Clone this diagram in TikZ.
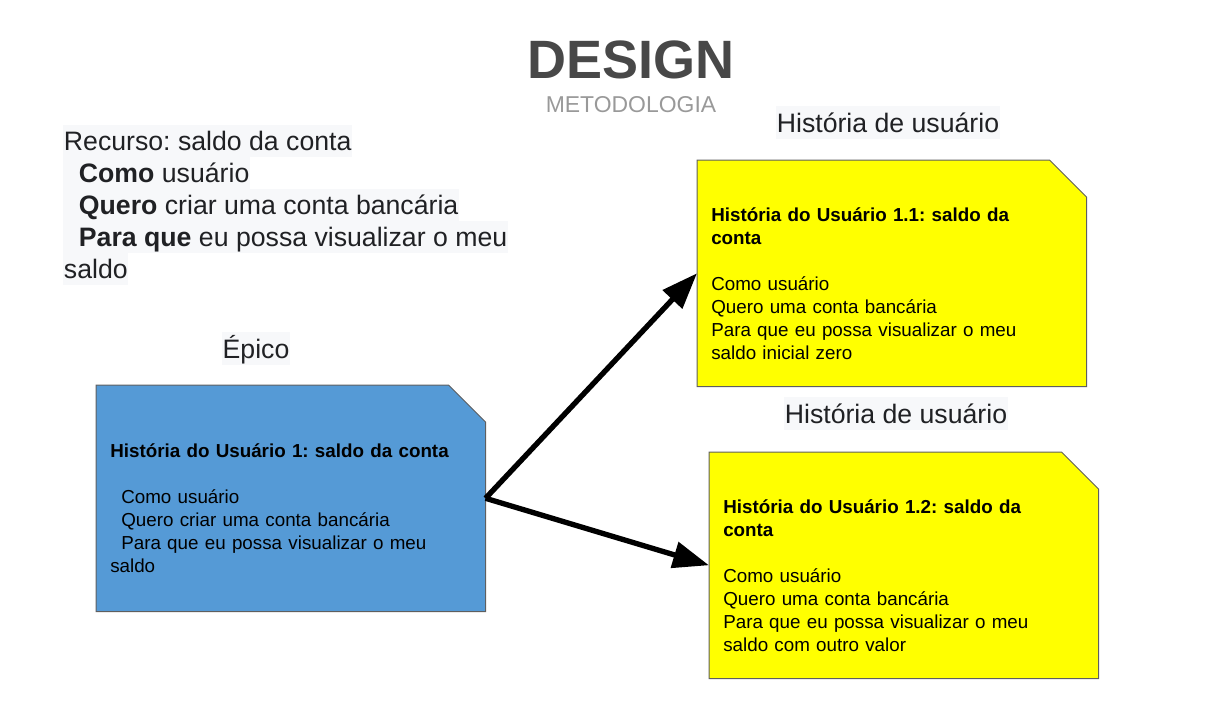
\documentclass[tikz,border=0pt]{standalone}
\usepackage{fontspec}
\setmainfont{Liberation Sans}
\usetikzlibrary{arrows.meta,positioning}
\definecolor{epicblue}{RGB}{85,154,214}
\definecolor{storyyellow}{RGB}{255,255,0}
\definecolor{cardline}{RGB}{95,95,95}
\definecolor{ink}{RGB}{32,33,36}
\definecolor{hl}{RGB}{247,248,250}
\definecolor{titlegray}{RGB}{72,72,72}
\definecolor{subgray}{RGB}{153,153,153}
\frenchspacing

\begin{document}
\begin{tikzpicture}[x=0.75pt,y=-0.75pt,
  every node/.style={inner sep=0pt},
  card/.style={draw=none,minimum width=291.75pt,minimum height=169.5pt,anchor=north west},
  cardedge/.style={draw=cardline,line width=0.75pt},
  cardtext/.style={anchor=base west,align=left,text width=285pt,font=\fontsize{14.1}{17.25}\selectfont},
  hlline/.style={anchor=base west,fill=hl,text=ink,inner xsep=0.5pt,text height=18.75pt,text depth=5.25pt,font=\fontsize{20}{24}\selectfont},
  lbl/.style={anchor=base,fill=hl,text=ink,inner xsep=0.5pt,text height=19.5pt,text depth=5.25pt,font=\fontsize{20}{24}\selectfont},
  e/.style={-{Triangle[length=27pt,width=19.5pt]},line width=4pt}]
\useasboundingbox (0,0) rectangle (1206,715);
% header
\node[anchor=base,text=titlegray,font=\fontsize{40.5}{48}\selectfont\bfseries] (Design) at (631,78) {DESIGN};
\node[anchor=base,text=subgray,font=\fontsize{17.2}{20}\selectfont] (Metodologia) at (631,112) {METODOLOGIA};
% feature text
\node[hlline] (FeatureTitle) at (63,150) {Recurso: saldo da conta};
\node[hlline] (FeatureComo) at (63,182) {\hspace{11.25pt}\textbf{Como} usuário};
\node[hlline] (FeatureQuero) at (63,214) {\hspace{11.25pt}\textbf{Quero} criar uma conta bancária};
\node[hlline] (FeaturePara) at (63,246) {\hspace{11.25pt}\textbf{Para que} eu possa visualizar o meu};
\node[hlline] (FeatureSaldo) at (63,278) {saldo};
% labels
\node[lbl] (EpicLabel) at (256,358) {Épico};
\node[lbl] (StoryLabelA) at (888,132) {História de usuário};
\node[lbl] (StoryLabelB) at (896,423) {História de usuário};
% cards
\node[card] (Epic) at (96,385) {};
\node[card] (StoryA) at (697,160) {};
\node[card] (StoryB) at (709,452) {};
\draw[cardedge,fill=epicblue] (Epic.south west) -- (Epic.north west) -- ([xshift=-27.75pt]Epic.north east) -- ([yshift=-27.75pt]Epic.north east) -- (Epic.south east) -- cycle;
\draw[cardedge,fill=storyyellow] (StoryA.south west) -- (StoryA.north west) -- ([xshift=-27.75pt]StoryA.north east) -- ([yshift=-27.75pt]StoryA.north east) -- (StoryA.south east) -- cycle;
\draw[cardedge,fill=storyyellow] (StoryB.south west) -- (StoryB.north west) -- ([xshift=-27.75pt]StoryB.north east) -- ([yshift=-27.75pt]StoryB.north east) -- (StoryB.south east) -- cycle;
\node[cardtext] (EpicText) at (110,457) {\textbf{História do Usuário 1: saldo da conta}\\[17.25pt]
  \hspace{8.25pt}Como usuário\\
  \hspace{8.25pt}Quero criar uma conta bancária\\
  \hspace{8.25pt}Para que eu possa visualizar o meu\\
  saldo};
\node[cardtext] (StoryAText) at (711,221) {\textbf{História do Usuário 1.1: saldo da}\\\textbf{conta}\\[17.25pt]
  Como usuário\\
  Quero uma conta bancária\\
  Para que eu possa visualizar o meu\\
  saldo inicial zero};
\node[cardtext] (StoryBText) at (723,513) {\textbf{História do Usuário 1.2: saldo da}\\\textbf{conta}\\[17.25pt]
  Como usuário\\
  Quero uma conta bancária\\
  Para que eu possa visualizar o meu\\
  saldo com outro valor};
% arrows
\draw[e] (Epic.east) -- (StoryA.west);
\draw[e] (Epic.east) -- (StoryB.west);
\end{tikzpicture}
\end{document}
